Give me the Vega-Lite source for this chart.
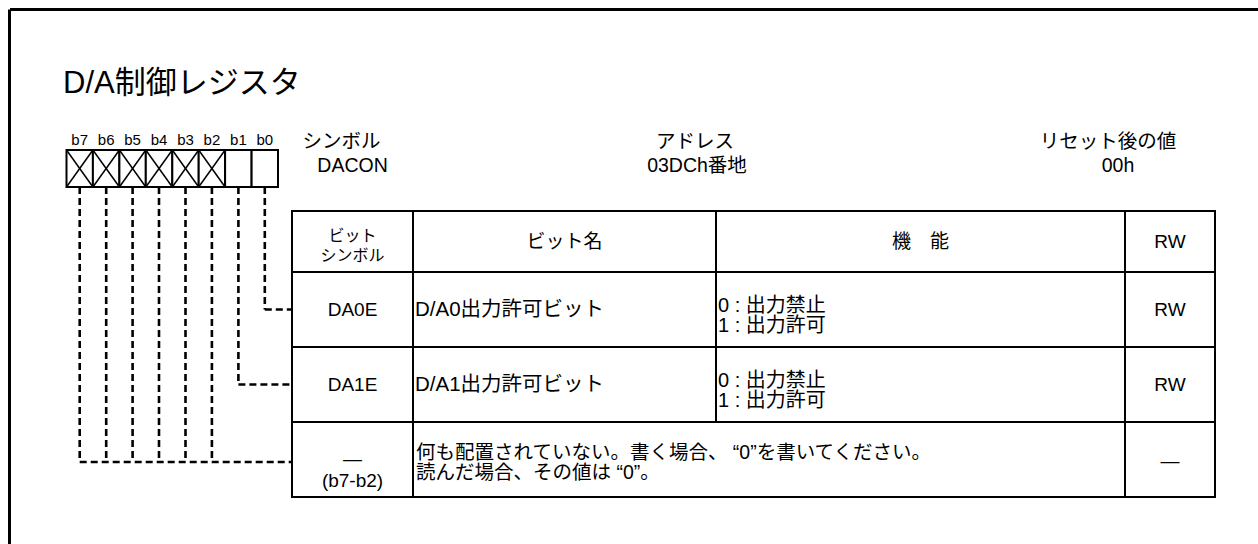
{
"$schema":"https://vega.github.io/schema/vega-lite/v6.json",
"width":1258,"height":544,"autosize":"none","padding":0,
"background":"white",
"config":{"view":{"stroke":null},"text":{"font":"Liberation Sans, Noto Sans CJK JP","color":"black"}},
"datasets":{
"frame":[{"x":10,"y":9.5,"x2":1258,"y2":9.5},{"x":9.5,"y":9.5,"x2":9.5,"y2":544}],
"bits":[
{"bit":"b7","x":66.5,"x2":92.9,"xc":79.7,"ytop":150,"ybot":187,"ylab":140,"yend":462,"reserved":true},
{"bit":"b6","x":92.9,"x2":119.4,"xc":106.2,"ytop":150,"ybot":187,"ylab":140,"yend":462,"reserved":true},
{"bit":"b5","x":119.4,"x2":145.8,"xc":132.6,"ytop":150,"ybot":187,"ylab":140,"yend":462,"reserved":true},
{"bit":"b4","x":145.8,"x2":172.3,"xc":159.0,"ytop":150,"ybot":187,"ylab":140,"yend":462,"reserved":true},
{"bit":"b3","x":172.3,"x2":198.7,"xc":185.5,"ytop":150,"ybot":187,"ylab":140,"yend":462,"reserved":true},
{"bit":"b2","x":198.7,"x2":225.1,"xc":211.9,"ytop":150,"ybot":187,"ylab":140,"yend":462,"reserved":true},
{"bit":"b1","x":225.1,"x2":251.6,"xc":238.4,"ytop":150,"ybot":187,"ylab":140,"yend":384.5,"reserved":false},
{"bit":"b0","x":251.6,"x2":278.0,"xc":264.8,"ytop":150,"ybot":187,"ylab":140,"yend":309.5,"reserved":false}
],
"links":[
{"from":79.7,"to":292,"y":462},
{"from":238.4,"to":292,"y":384.5},
{"from":264.8,"to":292,"y":309.5}
],
"cells":[
{"row":"h","col":1,"x":292,"x2":413,"y":211,"y2":272},
{"row":"h","col":2,"x":413,"x2":716,"y":211,"y2":272},
{"row":"h","col":3,"x":716,"x2":1125,"y":211,"y2":272},
{"row":"h","col":4,"x":1125,"x2":1215,"y":211,"y2":272},
{"row":"r1","col":1,"x":292,"x2":413,"y":272,"y2":347},
{"row":"r1","col":2,"x":413,"x2":716,"y":272,"y2":347},
{"row":"r1","col":3,"x":716,"x2":1125,"y":272,"y2":347},
{"row":"r1","col":4,"x":1125,"x2":1215,"y":272,"y2":347},
{"row":"r2","col":1,"x":292,"x2":413,"y":347,"y2":422},
{"row":"r2","col":2,"x":413,"x2":716,"y":347,"y2":422},
{"row":"r2","col":3,"x":716,"x2":1125,"y":347,"y2":422},
{"row":"r2","col":4,"x":1125,"x2":1215,"y":347,"y2":422},
{"row":"r3","col":1,"x":292,"x2":413,"y":422,"y2":497},
{"row":"r3","col":2,"x":413,"x2":1125,"y":422,"y2":497},
{"row":"r3","col":4,"x":1125,"x2":1215,"y":422,"y2":497}
],
"ctext":[
{"t":"ビット名","x":564.5,"y":241.5},
{"t":"機　能","x":920.5,"y":241.5},
{"t":"RW","x":1170,"y":241.5},
{"t":"DA0E","x":352.5,"y":309.5},
{"t":"RW","x":1170,"y":309.5},
{"t":"DA1E","x":352.5,"y":384.5},
{"t":"RW","x":1170,"y":384.5},
{"t":"—\n(b7-b2)","x":352.5,"y":459},
{"t":"—","x":1170,"y":461}
],
"htext":[{"t":"ビット\nシンボル","x":352.5,"y":236}],
"ntext":[
{"t":"D/A0出力許可ビット","x":415,"y":309.5},
{"t":"D/A1出力許可ビット","x":415,"y":384.5}
],
"ftext":[
{"t":"0 : 出力禁止\n1 : 出力許可","x":718,"y":306},
{"t":"0 : 出力禁止\n1 : 出力許可","x":718,"y":381}
],
"dtext":[
{"t":"何も配置されていない。書く場合、 “0”を書いてください。\n読んだ場合、その値は “0”。","x":416,"y":452.5}
],
"info":[
{"t":"シンボル","x":341.5,"y":142},
{"t":"DACON","x":352.5,"y":166},
{"t":"アドレス","x":695,"y":142},
{"t":"03DCh番地","x":697,"y":166},
{"t":"リセット後の値","x":1108,"y":142},
{"t":"00h","x":1118,"y":166}
],
"title":[{"t":"D/A制御レジスタ","x":63,"y":84}]
},
"layer":[
{"data":{"name":"frame"},"mark":{"type":"rule","strokeWidth":3,"color":"black"},
 "encoding":{"x":{"field":"x","type":"quantitative","scale":{"domain":[0,1258],"nice":false,"zero":false},"axis":null},
 "x2":{"field":"x2"},
 "y":{"field":"y","type":"quantitative","scale":{"domain":[0,544],"nice":false,"zero":false,"reverse":true},"axis":null},
 "y2":{"field":"y2"}}},
{"data":{"name":"bits"},"mark":{"type":"rect","fill":"white","stroke":"black","strokeWidth":2},
 "encoding":{"x":{"field":"x","type":"quantitative"},"x2":{"field":"x2"},"y":{"field":"ytop","type":"quantitative"},"y2":{"field":"ybot"}}},
{"data":{"name":"bits"},"transform":[{"filter":"datum.reserved"}],"mark":{"type":"rule","strokeWidth":1.5,"color":"black"},
 "encoding":{"x":{"field":"x","type":"quantitative"},"x2":{"field":"x2"},"y":{"field":"ytop","type":"quantitative"},"y2":{"field":"ybot"}}},
{"data":{"name":"bits"},"transform":[{"filter":"datum.reserved"}],"mark":{"type":"rule","strokeWidth":1.5,"color":"black"},
 "encoding":{"x":{"field":"x","type":"quantitative"},"x2":{"field":"x2"},"y":{"field":"ybot","type":"quantitative"},"y2":{"field":"ytop"}}},
{"data":{"name":"bits"},"mark":{"type":"text","fontSize":15,"align":"center","baseline":"middle"},
 "encoding":{"x":{"field":"xc","type":"quantitative"},"y":{"field":"ylab","type":"quantitative"},"text":{"field":"bit"}}},
{"data":{"name":"bits"},"mark":{"type":"rule","strokeWidth":2.6,"strokeDash":[7,4],"color":"black"},
 "encoding":{"x":{"field":"xc","type":"quantitative"},"y":{"field":"ybot","type":"quantitative"},"y2":{"field":"yend"}}},
{"data":{"name":"links"},"mark":{"type":"rule","strokeWidth":2.6,"strokeDash":[7,4],"color":"black"},
 "encoding":{"x":{"field":"from","type":"quantitative"},"x2":{"field":"to"},"y":{"field":"y","type":"quantitative"}}},
{"data":{"name":"cells"},"mark":{"type":"rect","fill":"white","stroke":"black","strokeWidth":2},
 "encoding":{"x":{"field":"x","type":"quantitative"},"x2":{"field":"x2"},"y":{"field":"y","type":"quantitative"},"y2":{"field":"y2"}}},
{"data":{"name":"ctext"},"mark":{"type":"text","fontSize":19,"align":"center","baseline":"middle","lineBreak":"\n","lineHeight":22},
 "encoding":{"x":{"field":"x","type":"quantitative"},"y":{"field":"y","type":"quantitative"},"text":{"field":"t"}}},
{"data":{"name":"htext"},"mark":{"type":"text","fontSize":16,"align":"center","baseline":"middle","lineBreak":"\n","lineHeight":20},
 "encoding":{"x":{"field":"x","type":"quantitative"},"y":{"field":"y","type":"quantitative"},"text":{"field":"t"}}},
{"data":{"name":"ntext"},"mark":{"type":"text","fontSize":20.5,"align":"left","baseline":"middle"},
 "encoding":{"x":{"field":"x","type":"quantitative"},"y":{"field":"y","type":"quantitative"},"text":{"field":"t"}}},
{"data":{"name":"ftext"},"mark":{"type":"text","fontSize":20,"align":"left","baseline":"middle","lineBreak":"\n","lineHeight":20},
 "encoding":{"x":{"field":"x","type":"quantitative"},"y":{"field":"y","type":"quantitative"},"text":{"field":"t"}}},
{"data":{"name":"dtext"},"mark":{"type":"text","fontSize":19.5,"align":"left","baseline":"middle","lineBreak":"\n","lineHeight":20},
 "encoding":{"x":{"field":"x","type":"quantitative"},"y":{"field":"y","type":"quantitative"},"text":{"field":"t"}}},
{"data":{"name":"info"},"mark":{"type":"text","fontSize":19.5,"align":"center","baseline":"middle"},
 "encoding":{"x":{"field":"x","type":"quantitative"},"y":{"field":"y","type":"quantitative"},"text":{"field":"t"}}},
{"data":{"name":"title"},"mark":{"type":"text","fontSize":31,"align":"left","baseline":"middle"},
 "encoding":{"x":{"field":"x","type":"quantitative"},"y":{"field":"y","type":"quantitative"},"text":{"field":"t"}}}
]
}
